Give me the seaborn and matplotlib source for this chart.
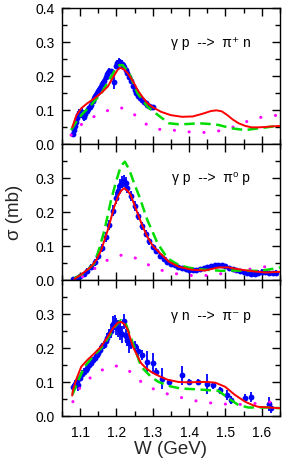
import numpy as np
import pandas as pd
import matplotlib
matplotlib.use("Agg")
import matplotlib.pyplot as plt
import seaborn as sns

# ---------------- data ----------------
# gamma p -> pi+ n : measurements
w_pp = [1.080, 1.083, 1.086, 1.089, 1.092, 1.095, 1.098, 1.101, 1.104, 1.107, 1.110, 1.114,
        1.118, 1.122, 1.126, 1.130, 1.134, 1.138, 1.142, 1.146, 1.150, 1.155, 1.160, 1.165,
        1.170, 1.175, 1.180, 1.185, 1.193, 1.198, 1.202, 1.206, 1.210, 1.214, 1.218, 1.222,
        1.226, 1.230, 1.235, 1.240, 1.245, 1.250, 1.255, 1.260, 1.265, 1.270, 1.275, 1.280,
        1.285, 1.290, 1.295, 1.300]
s_pp = [0.030, 0.040, 0.052, 0.066, 0.076, 0.086, 0.092, 0.088, 0.094, 0.085, 0.080, 0.088,
        0.096, 0.102, 0.108, 0.116, 0.126, 0.135, 0.142, 0.150, 0.156, 0.166, 0.176, 0.186,
        0.196, 0.206, 0.216, 0.214, 0.183, 0.230, 0.238, 0.242, 0.240, 0.236, 0.232, 0.226,
        0.218, 0.208, 0.196, 0.184, 0.172, 0.160, 0.150, 0.140, 0.134, 0.128, 0.124, 0.120,
        0.116, 0.112, 0.110, 0.108]
e_pp = [0.008, 0.008, 0.008, 0.010, 0.010, 0.012, 0.012, 0.012, 0.012, 0.012, 0.012, 0.010,
        0.010, 0.010, 0.008, 0.008, 0.008, 0.008, 0.008, 0.008, 0.008, 0.008, 0.008, 0.008,
        0.008, 0.008, 0.008, 0.008, 0.020, 0.010, 0.010, 0.010, 0.010, 0.010, 0.010, 0.008,
        0.008, 0.008, 0.008, 0.008, 0.008, 0.008, 0.008, 0.008, 0.008, 0.006, 0.006, 0.006,
        0.006, 0.006, 0.006, 0.006]

# gamma p -> pi+ n : model curves
w_pp_red = [1.078, 1.090, 1.103, 1.120, 1.139, 1.160, 1.176, 1.190, 1.203, 1.210, 1.220, 1.231,
            1.245, 1.258, 1.271, 1.285, 1.300, 1.322, 1.349, 1.380, 1.410, 1.440, 1.460, 1.475,
            1.490, 1.505, 1.520, 1.536, 1.555, 1.572, 1.590, 1.609, 1.630, 1.650]
s_pp_red = [0.049, 0.085, 0.105, 0.120, 0.134, 0.152, 0.169, 0.195, 0.218, 0.224, 0.220, 0.208,
            0.185, 0.159, 0.139, 0.120, 0.108, 0.095, 0.085, 0.080, 0.081, 0.090, 0.097, 0.099,
            0.096, 0.085, 0.072, 0.061, 0.053, 0.049, 0.049, 0.050, 0.052, 0.053]
w_pp_grn = [1.075, 1.090, 1.103, 1.130, 1.158, 1.185, 1.200, 1.208, 1.217, 1.235, 1.258, 1.285,
            1.313, 1.344, 1.371, 1.400, 1.426, 1.455, 1.481, 1.517, 1.554, 1.590, 1.627, 1.650]
s_pp_grn = [0.041, 0.066, 0.085, 0.115, 0.149, 0.198, 0.225, 0.232, 0.232, 0.208, 0.149, 0.110,
            0.086, 0.061, 0.058, 0.059, 0.061, 0.059, 0.056, 0.046, 0.041, 0.046, 0.051, 0.053]
w_pp_mag = [1.075, 1.100, 1.130, 1.155, 1.180, 1.208, 1.235, 1.262, 1.290, 1.317, 1.339, 1.371,
            1.421, 1.448, 1.475, 1.499, 1.531, 1.554, 1.581, 1.609, 1.645]
s_pp_mag = [0.026, 0.055, 0.076, 0.090, 0.100, 0.108, 0.098, 0.076, 0.051, 0.043, 0.044, 0.038,
            0.034, 0.034, 0.037, 0.043, 0.053, 0.064, 0.076, 0.080, 0.085]

# gamma p -> pi0 p : measurements
w_p0 = [1.080, 1.090, 1.100, 1.110, 1.120, 1.130, 1.140, 1.150, 1.160, 1.170, 1.180, 1.190,
        1.200, 1.205, 1.210, 1.215, 1.220, 1.225, 1.230, 1.240, 1.250, 1.260, 1.270, 1.280,
        1.290, 1.300, 1.310, 1.320, 1.330, 1.340, 1.350, 1.360, 1.370, 1.380, 1.390, 1.400,
        1.410, 1.420, 1.430, 1.440, 1.450, 1.460, 1.470, 1.480, 1.490, 1.500, 1.510, 1.520,
        1.530, 1.540, 1.550, 1.560, 1.570, 1.580, 1.590, 1.600, 1.610, 1.620, 1.630, 1.640]
s_p0 = [0.002, 0.006, 0.011, 0.018, 0.026, 0.038, 0.052, 0.072, 0.094, 0.126, 0.162, 0.204,
        0.242, 0.262, 0.278, 0.288, 0.292, 0.286, 0.272, 0.248, 0.218, 0.188, 0.160, 0.136,
        0.114, 0.098, 0.084, 0.072, 0.062, 0.054, 0.048, 0.043, 0.038, 0.034, 0.031, 0.030,
        0.030, 0.030, 0.031, 0.034, 0.038, 0.042, 0.044, 0.045, 0.043, 0.040, 0.036, 0.032,
        0.029, 0.026, 0.024, 0.020, 0.018, 0.019, 0.022, 0.025, 0.024, 0.021, 0.020, 0.022]
e_p0 = [0.004, 0.004, 0.005, 0.006, 0.008, 0.010, 0.010, 0.012, 0.012, 0.014, 0.015, 0.016,
        0.018, 0.018, 0.018, 0.018, 0.018, 0.016, 0.016, 0.015, 0.014, 0.012, 0.012, 0.010,
        0.010, 0.008, 0.008, 0.006, 0.006, 0.005, 0.005, 0.005, 0.005, 0.005, 0.005, 0.005,
        0.005, 0.005, 0.005, 0.005, 0.005, 0.005, 0.005, 0.005, 0.005, 0.005, 0.005, 0.005,
        0.005, 0.005, 0.005, 0.006, 0.006, 0.006, 0.006, 0.006, 0.006, 0.006, 0.006, 0.006]

# gamma p -> pi0 p : model curves
w_p0_red = [1.084, 1.094, 1.110, 1.130, 1.145, 1.158, 1.176, 1.194, 1.205, 1.212, 1.221, 1.230,
            1.239, 1.258, 1.271, 1.285, 1.300, 1.316, 1.344, 1.371, 1.408, 1.444, 1.481, 1.508,
            1.545, 1.581, 1.609, 1.650]
s_p0_red = [0.003, 0.010, 0.022, 0.039, 0.060, 0.088, 0.147, 0.216, 0.248, 0.262, 0.270, 0.263,
            0.250, 0.196, 0.160, 0.127, 0.100, 0.083, 0.054, 0.039, 0.030, 0.028, 0.037, 0.037,
            0.030, 0.025, 0.022, 0.024]
w_p0_grn = [1.084, 1.110, 1.139, 1.152, 1.167, 1.185, 1.200, 1.212, 1.223, 1.235, 1.250, 1.263,
            1.285, 1.313, 1.340, 1.371, 1.400, 1.435, 1.460, 1.490, 1.520, 1.554, 1.590, 1.620,
            1.650]
s_p0_grn = [0.005, 0.020, 0.049, 0.090, 0.147, 0.235, 0.294, 0.335, 0.348, 0.325, 0.280, 0.245,
            0.176, 0.108, 0.064, 0.044, 0.036, 0.031, 0.029, 0.027, 0.028, 0.027, 0.027, 0.031,
            0.037]
w_p0_mag = [1.106, 1.130, 1.152, 1.170, 1.188, 1.205, 1.216, 1.230, 1.243, 1.265, 1.289, 1.312,
            1.335, 1.380, 1.426, 1.472, 1.517, 1.563, 1.609, 1.645]
s_p0_mag = [0.010, 0.025, 0.044, 0.056, 0.064, 0.070, 0.074, 0.072, 0.069, 0.058, 0.044, 0.033,
            0.025, 0.015, 0.012, 0.015, 0.025, 0.031, 0.039, 0.041]

# gamma n -> pi- p : measurements
w_n = [1.080, 1.085, 1.090, 1.095, 1.100, 1.105, 1.110, 1.115, 1.120, 1.125, 1.130, 1.135,
       1.140, 1.145, 1.150, 1.155, 1.160, 1.165, 1.170, 1.175, 1.180, 1.185, 1.190, 1.195,
       1.200, 1.205, 1.210, 1.215, 1.220, 1.225, 1.230, 1.235, 1.240, 1.250, 1.260, 1.270,
       1.285, 1.300, 1.310, 1.325, 1.345, 1.380, 1.400, 1.425, 1.450, 1.465, 1.485, 1.505,
       1.515, 1.555, 1.570, 1.620, 1.625]
s_n = [0.085, 0.095, 0.102, 0.090, 0.112, 0.125, 0.130, 0.135, 0.140, 0.150, 0.155, 0.165,
       0.170, 0.180, 0.185, 0.195, 0.205, 0.210, 0.220, 0.230, 0.240, 0.250, 0.272, 0.276,
       0.262, 0.258, 0.248, 0.240, 0.278, 0.235, 0.225, 0.215, 0.212, 0.205, 0.192, 0.180,
       0.160, 0.155, 0.130, 0.110, 0.100, 0.120, 0.100, 0.100, 0.095, 0.090, 0.076, 0.062,
       0.048, 0.052, 0.055, 0.036, 0.025]
e_n = [0.010, 0.010, 0.010, 0.015, 0.010, 0.010, 0.010, 0.010, 0.010, 0.010, 0.010, 0.010,
       0.010, 0.010, 0.010, 0.010, 0.010, 0.012, 0.012, 0.015, 0.015, 0.020, 0.022, 0.022,
       0.025, 0.025, 0.025, 0.025, 0.022, 0.020, 0.020, 0.030, 0.015, 0.015, 0.015, 0.015,
       0.030, 0.030, 0.010, 0.030, 0.010, 0.028, 0.010, 0.010, 0.030, 0.010, 0.010, 0.015,
       0.012, 0.012, 0.015, 0.020, 0.015]

# gamma n -> pi- p : model curves
w_n_red = [1.078, 1.080, 1.090, 1.103, 1.120, 1.139, 1.158, 1.176, 1.190, 1.203, 1.212, 1.222,
           1.231, 1.245, 1.256, 1.268, 1.280, 1.295, 1.316, 1.340, 1.371, 1.400, 1.426, 1.450,
           1.472, 1.499, 1.526, 1.554, 1.575, 1.590, 1.620, 1.650]
s_n_red = [0.060, 0.076, 0.110, 0.145, 0.165, 0.184, 0.205, 0.233, 0.258, 0.274, 0.277, 0.270,
           0.253, 0.204, 0.180, 0.155, 0.142, 0.130, 0.118, 0.107, 0.100, 0.099, 0.100, 0.100,
           0.098, 0.086, 0.062, 0.042, 0.032, 0.027, 0.025, 0.023]
w_n_grn = [1.078, 1.080, 1.095, 1.112, 1.139, 1.158, 1.176, 1.195, 1.212, 1.226, 1.245, 1.268,
           1.295, 1.316, 1.349, 1.376, 1.426, 1.481, 1.508, 1.536, 1.563, 1.618, 1.650]
s_n_grn = [0.062, 0.066, 0.105, 0.145, 0.180, 0.200, 0.228, 0.262, 0.282, 0.270, 0.214, 0.145,
           0.115, 0.100, 0.087, 0.081, 0.078, 0.074, 0.052, 0.032, 0.025, 0.025, 0.023]
w_n_mag = [1.080, 1.098, 1.116, 1.135, 1.160, 1.190, 1.217, 1.245, 1.272, 1.299, 1.326, 1.376,
           1.403, 1.453, 1.513, 1.560, 1.590, 1.645]
s_n_mag = [0.042, 0.081, 0.100, 0.120, 0.135, 0.148, 0.145, 0.125, 0.096, 0.081, 0.069, 0.055,
           0.047, 0.039, 0.034, 0.034, 0.038, 0.043]

labels = ["γ p  -->  π⁺ n", "γ p  -->  π⁰ p", "γ n  -->  π⁻ p"]
yticks_top = [0.0, 0.1, 0.2, 0.3, 0.4]
yticks_low = [0.0, 0.1, 0.2, 0.3]
xticks = [1.1, 1.2, 1.3, 1.4, 1.5, 1.6]

# ---------------- style ----------------
sns.set_theme(style="ticks")
plt.rcParams['font.family'] = ['Liberation Sans', 'DejaVu Sans']
plt.rcParams['axes.linewidth'] = 1.0

W, H = 283, 472
fig = plt.figure(figsize=(W / 100, H / 100), dpi=100)

left = 62 / W
width = (280 - 62) / W
ph = 136 / H
bottoms = [1 - 144 / H, 1 - 280 / H, 1 - 416 / H]

panels = [
    (w_pp, s_pp, e_pp, w_pp_red, s_pp_red, w_pp_grn, s_pp_grn, w_pp_mag, s_pp_mag),
    (w_p0, s_p0, e_p0, w_p0_red, s_p0_red, w_p0_grn, s_p0_grn, w_p0_mag, s_p0_mag),
    (w_n, s_n, e_n, w_n_red, s_n_red, w_n_grn, s_n_grn, w_n_mag, s_n_mag),
]
text_y = [0.74, 0.75, 0.735]

blue = "#0000ff"
for i, (wd, sd, ed, wr, sr, wg, sg, wm, sm) in enumerate(panels):
    ax = fig.add_axes([left, bottoms[i], width, ph])
    ax.errorbar(wd, sd, yerr=ed, fmt='o', color=blue, ms=4.2, mew=0,
                elinewidth=1.3, capsize=2.6, capthick=1.3, zorder=2)
    dm = pd.DataFrame({"W": wm, "sigma": sm})
    dg = pd.DataFrame({"W": wg, "sigma": sg})
    dr = pd.DataFrame({"W": wr, "sigma": sr})
    sns.lineplot(data=dm, x="W", y="sigma", ax=ax, color="#ff00ff", lw=2.2,
                 linestyle=(0, (0.05, 4.8)), dash_capstyle='round', zorder=3)
    sns.lineplot(data=dg, x="W", y="sigma", ax=ax, color="#00dd00", lw=1.8,
                 linestyle=(0, (4.2, 2.2)), zorder=4)
    sns.lineplot(data=dr, x="W", y="sigma", ax=ax, color="#ff0000", lw=1.4, zorder=5)

    ax.set_xlim(1.05, 1.65)
    ax.set_ylim(0.0, 0.4)
    ax.set_xticks(xticks)
    ax.set_xticks(np.arange(1.05, 1.66, 0.05), minor=True)
    ax.set_yticks(yticks_top if i == 0 else yticks_low)
    ax.set_yticks([0.05, 0.15, 0.25, 0.35], minor=True)
    ax.yaxis.set_major_formatter(matplotlib.ticker.FormatStrFormatter('%.1f'))
    ax.xaxis.set_major_formatter(matplotlib.ticker.FormatStrFormatter('%.1f'))
    ax.tick_params(which='both', direction='in', top=True, right=True,
                   labelsize=10, width=1.0, color='black', labelcolor='black')
    ax.tick_params(which='major', length=6, pad=5)
    ax.tick_params(which='minor', length=3.5)
    ax.tick_params(axis='x', pad=7)
    if i < 2:
        ax.tick_params(axis='x', labelbottom=False)
    for sp in ax.spines.values():
        sp.set_color('black')
        sp.set_linewidth(1.0)
    ax.set_xlabel("")
    ax.set_ylabel("")
    ax.text(0.685, text_y[i], labels[i], transform=ax.transAxes, fontsize=10,
            ha='center', va='center', color='black')
    if i == 2:
        ax.set_xlabel("W (GeV)", fontsize=13.5, labelpad=1)

fig.text(14.5 / W, 1 - 212 / H, "σ (mb)", rotation=90, fontsize=13.5,
         ha='center', va='center')

fig.savefig("out.png", dpi=100)
